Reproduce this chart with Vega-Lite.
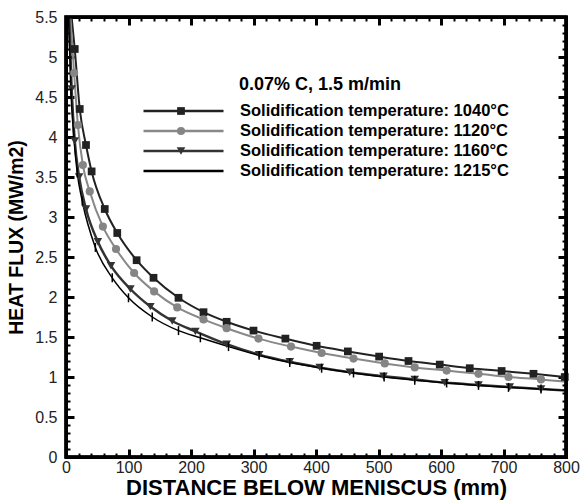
{
  "$schema": "https://vega.github.io/schema/vega-lite/v6.json",
  "width": 500,
  "height": 440,
  "autosize": {"type": "none"},
  "padding": {"left": 66, "top": 17, "right": 14, "bottom": 47},
  "background": "white",
  "title": {
    "text": "0.07% C, 1.5 m/min",
    "orient": "top",
    "anchor": "start",
    "frame": "group",
    "offset": 0,
    "baseline": "middle",
    "dx": 173,
    "dy": 94,
    "font": "Liberation Sans",
    "fontSize": 18,
    "fontWeight": "bold",
    "color": "#000"
  },
  "config": {
    "view": {"stroke": "#000", "strokeWidth": 3},
    "font": "Liberation Sans",
    "axis": {
      "zindex": 1,
      "grid": false,
      "domain": true,
      "domainColor": "#000",
      "domainWidth": 3,
      "domainCap": "square",
      "ticks": true,
      "labelFont": "Liberation Sans",
      "labelFontSize": 16,
      "labelColor": "#222",
      "titleFont": "Liberation Sans",
      "titleFontWeight": "bold",
      "titleColor": "#000",
      "tickColor": "#000",
      "tickOpacity": 1,
      "labelFlush": false,
      "labelOverlap": false
    }
  },
  "data": {
    "values": [
      {"series": "Solidification temperature: 1040°C", "d": 9, "q": 5.5, "mk": 0},
      {"series": "Solidification temperature: 1040°C", "d": 14, "q": 5.1, "mk": 1},
      {"series": "Solidification temperature: 1040°C", "d": 22, "q": 4.35, "mk": 1},
      {"series": "Solidification temperature: 1040°C", "d": 32, "q": 3.9, "mk": 1},
      {"series": "Solidification temperature: 1040°C", "d": 41, "q": 3.57, "mk": 1},
      {"series": "Solidification temperature: 1040°C", "d": 62, "q": 3.1, "mk": 1},
      {"series": "Solidification temperature: 1040°C", "d": 82, "q": 2.8, "mk": 1},
      {"series": "Solidification temperature: 1040°C", "d": 113, "q": 2.46, "mk": 1},
      {"series": "Solidification temperature: 1040°C", "d": 140, "q": 2.24, "mk": 1},
      {"series": "Solidification temperature: 1040°C", "d": 180, "q": 1.99, "mk": 1},
      {"series": "Solidification temperature: 1040°C", "d": 220, "q": 1.81, "mk": 1},
      {"series": "Solidification temperature: 1040°C", "d": 257, "q": 1.69, "mk": 1},
      {"series": "Solidification temperature: 1040°C", "d": 300, "q": 1.58, "mk": 1},
      {"series": "Solidification temperature: 1040°C", "d": 351, "q": 1.48, "mk": 1},
      {"series": "Solidification temperature: 1040°C", "d": 401, "q": 1.39, "mk": 1},
      {"series": "Solidification temperature: 1040°C", "d": 451, "q": 1.32, "mk": 1},
      {"series": "Solidification temperature: 1040°C", "d": 501, "q": 1.255, "mk": 1},
      {"series": "Solidification temperature: 1040°C", "d": 548, "q": 1.2, "mk": 1},
      {"series": "Solidification temperature: 1040°C", "d": 598, "q": 1.155, "mk": 1},
      {"series": "Solidification temperature: 1040°C", "d": 646, "q": 1.11, "mk": 1},
      {"series": "Solidification temperature: 1040°C", "d": 697, "q": 1.075, "mk": 1},
      {"series": "Solidification temperature: 1040°C", "d": 748, "q": 1.04, "mk": 1},
      {"series": "Solidification temperature: 1040°C", "d": 798, "q": 1.0, "mk": 1},

      {"series": "Solidification temperature: 1120°C", "d": 7, "q": 5.5, "mk": 0},
      {"series": "Solidification temperature: 1120°C", "d": 13, "q": 4.8, "mk": 1},
      {"series": "Solidification temperature: 1120°C", "d": 19, "q": 4.15, "mk": 1},
      {"series": "Solidification temperature: 1120°C", "d": 27, "q": 3.65, "mk": 1},
      {"series": "Solidification temperature: 1120°C", "d": 38, "q": 3.32, "mk": 1},
      {"series": "Solidification temperature: 1120°C", "d": 59, "q": 2.88, "mk": 1},
      {"series": "Solidification temperature: 1120°C", "d": 80, "q": 2.6, "mk": 1},
      {"series": "Solidification temperature: 1120°C", "d": 109, "q": 2.3, "mk": 1},
      {"series": "Solidification temperature: 1120°C", "d": 141, "q": 2.07, "mk": 1},
      {"series": "Solidification temperature: 1120°C", "d": 178, "q": 1.87, "mk": 1},
      {"series": "Solidification temperature: 1120°C", "d": 220, "q": 1.72, "mk": 1},
      {"series": "Solidification temperature: 1120°C", "d": 257, "q": 1.61, "mk": 1},
      {"series": "Solidification temperature: 1120°C", "d": 308, "q": 1.48, "mk": 1},
      {"series": "Solidification temperature: 1120°C", "d": 360, "q": 1.38, "mk": 1},
      {"series": "Solidification temperature: 1120°C", "d": 409, "q": 1.3, "mk": 1},
      {"series": "Solidification temperature: 1120°C", "d": 460, "q": 1.23, "mk": 1},
      {"series": "Solidification temperature: 1120°C", "d": 510, "q": 1.17, "mk": 1},
      {"series": "Solidification temperature: 1120°C", "d": 558, "q": 1.12, "mk": 1},
      {"series": "Solidification temperature: 1120°C", "d": 609, "q": 1.08, "mk": 1},
      {"series": "Solidification temperature: 1120°C", "d": 660, "q": 1.04, "mk": 1},
      {"series": "Solidification temperature: 1120°C", "d": 708, "q": 1.0, "mk": 1},
      {"series": "Solidification temperature: 1120°C", "d": 760, "q": 0.97, "mk": 1},
      {"series": "Solidification temperature: 1120°C", "d": 800, "q": 0.94, "mk": 0},

      {"series": "Solidification temperature: 1160°C", "d": 5, "q": 5.5, "mk": 0},
      {"series": "Solidification temperature: 1160°C", "d": 9, "q": 4.6, "mk": 1},
      {"series": "Solidification temperature: 1160°C", "d": 14, "q": 3.95, "mk": 1},
      {"series": "Solidification temperature: 1160°C", "d": 21, "q": 3.5, "mk": 1},
      {"series": "Solidification temperature: 1160°C", "d": 32, "q": 3.1, "mk": 1},
      {"series": "Solidification temperature: 1160°C", "d": 51, "q": 2.69, "mk": 1},
      {"series": "Solidification temperature: 1160°C", "d": 72, "q": 2.39, "mk": 1},
      {"series": "Solidification temperature: 1160°C", "d": 103, "q": 2.1, "mk": 1},
      {"series": "Solidification temperature: 1160°C", "d": 135, "q": 1.88, "mk": 1},
      {"series": "Solidification temperature: 1160°C", "d": 170, "q": 1.7, "mk": 1},
      {"series": "Solidification temperature: 1160°C", "d": 207, "q": 1.57, "mk": 1},
      {"series": "Solidification temperature: 1160°C", "d": 257, "q": 1.41, "mk": 1},
      {"series": "Solidification temperature: 1160°C", "d": 309, "q": 1.28, "mk": 1},
      {"series": "Solidification temperature: 1160°C", "d": 358, "q": 1.19, "mk": 1},
      {"series": "Solidification temperature: 1160°C", "d": 406, "q": 1.12, "mk": 1},
      {"series": "Solidification temperature: 1160°C", "d": 454, "q": 1.06, "mk": 1},
      {"series": "Solidification temperature: 1160°C", "d": 508, "q": 1.01, "mk": 1},
      {"series": "Solidification temperature: 1160°C", "d": 558, "q": 0.97, "mk": 1},
      {"series": "Solidification temperature: 1160°C", "d": 606, "q": 0.93, "mk": 1},
      {"series": "Solidification temperature: 1160°C", "d": 660, "q": 0.9, "mk": 1},
      {"series": "Solidification temperature: 1160°C", "d": 710, "q": 0.875, "mk": 1},
      {"series": "Solidification temperature: 1160°C", "d": 760, "q": 0.85, "mk": 1},
      {"series": "Solidification temperature: 1160°C", "d": 800, "q": 0.83, "mk": 0},

      {"series": "Solidification temperature: 1215°C", "d": 4, "q": 5.5, "mk": 0},
      {"series": "Solidification temperature: 1215°C", "d": 8, "q": 4.55, "mk": 1},
      {"series": "Solidification temperature: 1215°C", "d": 12, "q": 4.05, "mk": 1},
      {"series": "Solidification temperature: 1215°C", "d": 18, "q": 3.55, "mk": 1},
      {"series": "Solidification temperature: 1215°C", "d": 26, "q": 3.2, "mk": 1},
      {"series": "Solidification temperature: 1215°C", "d": 47, "q": 2.62, "mk": 1},
      {"series": "Solidification temperature: 1215°C", "d": 74, "q": 2.24, "mk": 1},
      {"series": "Solidification temperature: 1215°C", "d": 100, "q": 1.99, "mk": 1},
      {"series": "Solidification temperature: 1215°C", "d": 138, "q": 1.75, "mk": 1},
      {"series": "Solidification temperature: 1215°C", "d": 180, "q": 1.58, "mk": 1},
      {"series": "Solidification temperature: 1215°C", "d": 215, "q": 1.49, "mk": 1},
      {"series": "Solidification temperature: 1215°C", "d": 260, "q": 1.38, "mk": 1},
      {"series": "Solidification temperature: 1215°C", "d": 309, "q": 1.27, "mk": 1},
      {"series": "Solidification temperature: 1215°C", "d": 358, "q": 1.18, "mk": 1},
      {"series": "Solidification temperature: 1215°C", "d": 409, "q": 1.11, "mk": 1},
      {"series": "Solidification temperature: 1215°C", "d": 460, "q": 1.05, "mk": 1},
      {"series": "Solidification temperature: 1215°C", "d": 509, "q": 1.0, "mk": 1},
      {"series": "Solidification temperature: 1215°C", "d": 558, "q": 0.96, "mk": 1},
      {"series": "Solidification temperature: 1215°C", "d": 609, "q": 0.925, "mk": 1},
      {"series": "Solidification temperature: 1215°C", "d": 660, "q": 0.895, "mk": 1},
      {"series": "Solidification temperature: 1215°C", "d": 708, "q": 0.87, "mk": 1},
      {"series": "Solidification temperature: 1215°C", "d": 760, "q": 0.85, "mk": 1},
      {"series": "Solidification temperature: 1215°C", "d": 800, "q": 0.83, "mk": 0}
    ]
  },
  "layer": [
    {
      "mark": {"type": "line", "interpolate": "monotone"},
      "encoding": {
        "x": {
          "field": "d",
          "type": "quantitative",
          "scale": {"domain": [0, 800], "nice": false, "zero": false},
          "axis": {
            "orient": "bottom",
            "title": "DISTANCE BELOW MENISCUS (mm)",
            "titleFontSize": 22,
            "values": [0,20,40,60,80,100,120,140,160,180,200,220,240,260,280,300,320,340,360,380,400,420,440,460,480,500,520,540,560,580,600,620,640,660,680,700,720,740,760,780,800],
            "labelExpr": "datum.value % 100 === 0 ? format(datum.value, 'd') : ''",
            "tickSize": {"condition": {"test": "datum.value % 100 === 0", "value": -8}, "value": -4},
            "tickWidth": {"condition": {"test": "datum.value % 100 === 0", "value": 3}, "value": 2},
            "labelPadding": 10,
            "titlePadding": -2
          }
        },
        "y": {
          "field": "q",
          "type": "quantitative",
          "scale": {"domain": [0, 5.5], "nice": false, "zero": false},
          "axis": {
            "orient": "left",
            "title": "HEAT FLUX (MW/m2)",
            "titleFontSize": 19.5,
            "values": [0,0.1,0.2,0.3,0.4,0.5,0.6,0.7,0.8,0.9,1,1.1,1.2,1.3,1.4,1.5,1.6,1.7,1.8,1.9,2,2.1,2.2,2.3,2.4,2.5,2.6,2.7,2.8,2.9,3,3.1,3.2,3.3,3.4,3.5,3.6,3.7,3.8,3.9,4,4.1,4.2,4.3,4.4,4.5,4.6,4.7,4.8,4.9,5,5.1,5.2,5.3,5.4,5.5],
            "labelExpr": "round(datum.value * 10) % 5 === 0 ? format(datum.value, '~g') : ''",
            "tickSize": {"condition": {"test": "round(datum.value * 10) % 5 === 0", "value": -8}, "value": -4},
            "tickWidth": {"condition": {"test": "round(datum.value * 10) % 5 === 0", "value": 3}, "value": 2},
            "labelPadding": 17,
            "titlePadding": 8
          }
        },
        "stroke": {
          "field": "series",
          "type": "nominal",
          "scale": {
            "domain": ["Solidification temperature: 1040°C", "Solidification temperature: 1120°C", "Solidification temperature: 1160°C", "Solidification temperature: 1215°C"],
            "range": ["#222222", "#888888", "#333333", "#000000"]
          },
          "legend": {
            "orient": "none",
            "legendX": 76,
            "legendY": 85,
            "title": null,
            "labelFont": "Liberation Sans",
            "labelFontSize": 16.5,
            "labelFontWeight": "bold",
            "labelColor": "#000",
            "labelOffset": 15,
            "labelLimit": 400,
            "symbolSize": 6400,
            "symbolType": "stroke",
            "symbolStrokeWidth": 2.5,
            "clipHeight": 18,
            "rowPadding": 2
          }
        },
        "strokeWidth": {
          "condition": [
            {"test": "indexof(datum.series, '1040') >= 0", "value": 2},
            {"test": "indexof(datum.series, '1120') >= 0", "value": 2},
            {"test": "indexof(datum.series, '1160') >= 0", "value": 2.5}
          ],
          "value": 1.5
        }
      }
    },
    {
      "transform": [{"filter": "datum.mk === 1"}],
      "mark": {"type": "point", "filled": true, "opacity": 1, "stroke": "#000", "strokeWidth": 1.5},
      "encoding": {
        "x": {
          "field": "d",
          "type": "quantitative",
          "axis": {
            "orient": "top",
            "title": null,
            "labels": false,
            "values": [0,20,40,60,80,100,120,140,160,180,200,220,240,260,280,300,320,340,360,380,400,420,440,460,480,500,520,540,560,580,600,620,640,660,680,700,720,740,760,780,800],
            "tickSize": {"condition": {"test": "datum.value % 100 === 0", "value": -8}, "value": -4},
            "tickWidth": {"condition": {"test": "datum.value % 100 === 0", "value": 3}, "value": 2}
          }
        },
        "y": {
          "field": "q",
          "type": "quantitative",
          "axis": {
            "orient": "right",
            "title": null,
            "labels": false,
            "values": [0,0.1,0.2,0.3,0.4,0.5,0.6,0.7,0.8,0.9,1,1.1,1.2,1.3,1.4,1.5,1.6,1.7,1.8,1.9,2,2.1,2.2,2.3,2.4,2.5,2.6,2.7,2.8,2.9,3,3.1,3.2,3.3,3.4,3.5,3.6,3.7,3.8,3.9,4,4.1,4.2,4.3,4.4,4.5,4.6,4.7,4.8,4.9,5,5.1,5.2,5.3,5.4,5.5],
            "tickSize": {"condition": {"test": "round(datum.value * 10) % 5 === 0", "value": -8}, "value": -4},
            "tickWidth": {"condition": {"test": "round(datum.value * 10) % 5 === 0", "value": 3}, "value": 2}
          }
        },
        "shape": {
          "field": "series",
          "type": "nominal",
          "scale": {"range": ["square", "circle", "triangle-down", "M0,-1V1"]},
          "legend": {
            "orient": "none",
            "legendX": 110,
            "legendY": 85,
            "zindex": 1,
            "title": null,
            "labelExpr": "''",
            "symbolStrokeWidth": 1,
            "symbolStrokeColor": "#000",
            "clipHeight": 18,
            "rowPadding": 2
          }
        },
        "fill": {
          "field": "series",
          "type": "nominal",
          "scale": {"range": ["#222222", "#858585", "#333333", "#000000"]},
          "legend": {
            "orient": "none",
            "legendX": 110,
            "legendY": 85,
            "zindex": 1,
            "title": null,
            "labelExpr": "''",
            "symbolStrokeWidth": 1,
            "symbolStrokeColor": "#000",
            "clipHeight": 18,
            "rowPadding": 2
          }
        },
        "size": {
          "field": "series",
          "type": "nominal",
          "scale": {"range": [60, 80, 70, 120]},
          "legend": {
            "orient": "none",
            "legendX": 110,
            "legendY": 85,
            "zindex": 1,
            "title": null,
            "labelExpr": "''",
            "symbolStrokeWidth": 1,
            "symbolStrokeColor": "#000",
            "clipHeight": 18,
            "rowPadding": 2
          }
        },
        "strokeOpacity": {
          "condition": {"test": "indexof(datum.series, '1215') >= 0", "value": 1},
          "value": 0
        }
      }
    },
    {
      "data": {"values": [{"frame": "plot"}]},
      "mark": {"type": "rect", "filled": false, "stroke": "#000", "strokeWidth": 3.5},
      "encoding": {
        "x": {"datum": 0, "type": "quantitative", "axis": null},
        "x2": {"datum": 800},
        "y": {"datum": 0, "type": "quantitative", "axis": null},
        "y2": {"datum": 5.5}
      }
    }
  ],
  "resolve": {"axis": {"x": "independent", "y": "independent"}}
}
